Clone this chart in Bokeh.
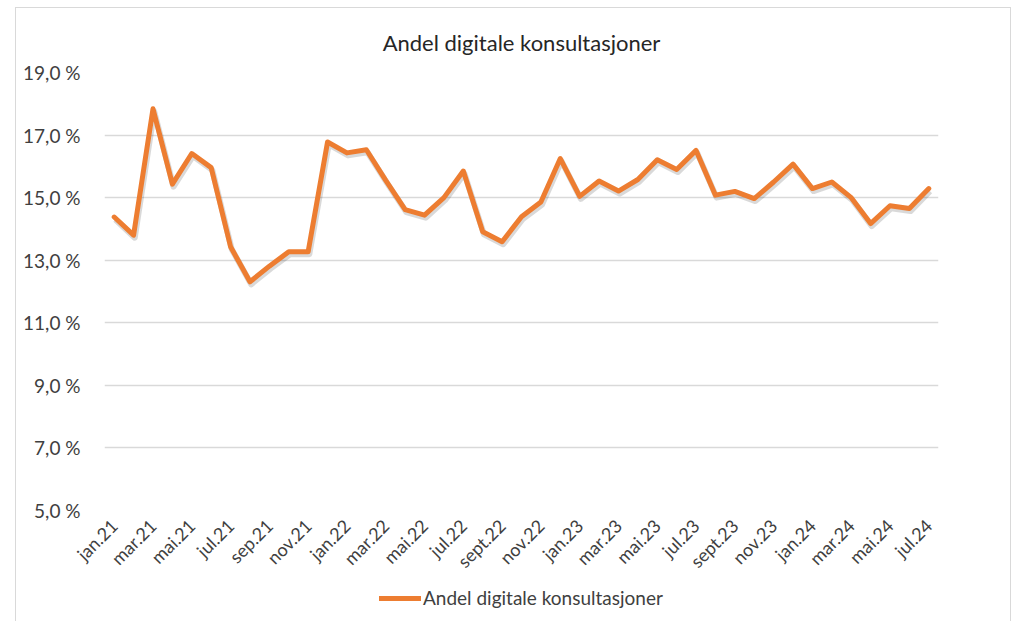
from math import pi
from bokeh.plotting import figure
from bokeh.layouts import column
from bokeh.models import ColumnDataSource, FixedTicker, Legend, LegendItem, Range1d
from bokeh.transform import dodge
from bokeh.embed import file_html
from bokeh.resources import INLINE

months = ["jan", "feb", "mar", "apr", "mai", "jun", "jul", "aug", "sep", "okt", "nov", "des"]
years = ["21", "22", "23", "24"]
month_labels = []
for yr in years:
    for m in months:
        name = m
        if m == "sep" and yr != "21":
            name = "sept"
        month_labels.append(f"{name}.{yr}")
month_labels = month_labels[:43]

share_2021 = [14.38, 13.80, 17.84, 15.43, 16.41, 15.96, 13.43, 12.31, 12.81, 13.27, 13.27, 16.78]
share_2022 = [16.43, 16.53, 15.55, 14.62, 14.44, 15.00, 15.85, 13.91, 13.59, 14.39, 14.86, 16.25]
share_2023 = [15.04, 15.53, 15.21, 15.58, 16.21, 15.90, 16.51, 15.08, 15.20, 14.97, 15.50, 16.07]
share_2024 = [15.29, 15.50, 15.00, 14.17, 14.74, 14.65, 15.29]
share = share_2021 + share_2022 + share_2023 + share_2024

y_ticks = [5, 7, 9, 11, 13, 15, 17, 19]
series_name = "Andel digitale konsultasjoner"

FONT = "Lato"
TXT = "#404040"
ORANGE = "#ED7D31"

idx = list(range(len(share)))
src = ColumnDataSource(dict(x=idx, y=share))

W = 994
p = figure(width=W, height=574, output_backend="svg", toolbar_location=None,
           x_range=Range1d(-0.5, len(share) - 0.5), y_range=Range1d(5, 19),
           min_border_left=88, min_border_right=72, min_border_top=64, min_border_bottom=72)
p.outline_line_color = None
p.background_fill_color = "white"
p.border_fill_color = "white"

p.title.text = series_name
p.title.align = "center"
p.title.text_font = FONT
p.title.text_font_size = "22px"
p.title.text_font_style = "normal"
p.title.text_color = "#262626"
p.title.offset = 0
p.title.standoff = 33

# soft shadow under the line
p.line(x=dodge("x", 0.06), y=dodge("y", -0.08), source=src, line_width=6,
       line_color="black", line_alpha=0.15, line_join="round")
p.line("x", "y", source=src, line_width=5, line_color=ORANGE,
       line_join="round", line_cap="round")

p.yaxis.ticker = FixedTicker(ticks=y_ticks)
p.yaxis.major_label_overrides = {t: f"{t},0 %" for t in y_ticks}
p.yaxis.axis_line_color = None
p.yaxis.major_tick_line_color = None
p.yaxis.minor_tick_line_color = None
p.yaxis.major_label_text_font = FONT
p.yaxis.major_label_text_font_size = "19px"
p.yaxis.major_label_text_color = TXT
p.yaxis.major_label_standoff = 18

xt = idx[::2]
p.xaxis.ticker = FixedTicker(ticks=xt)
p.xaxis.major_label_overrides = {i: month_labels[i] for i in xt}
p.xaxis.major_label_orientation = pi / 4
p.xaxis.axis_line_color = None
p.xaxis.major_tick_line_color = None
p.xaxis.minor_tick_line_color = None
p.xaxis.major_label_text_font = FONT
p.xaxis.major_label_text_font_size = "18px"
p.xaxis.major_label_text_color = TXT
p.xaxis.major_label_standoff = 6

p.xgrid.grid_line_color = None
p.ygrid.ticker = FixedTicker(ticks=y_ticks)
p.ygrid.grid_line_color = "#D9D9D9"
p.ygrid.grid_line_width = 1.5

# legend strip below the chart (its line lies outside the visible range; only the swatch shows)
lg = figure(width=W, height=40, output_backend="svg", toolbar_location=None,
            x_range=Range1d(0, 1), y_range=Range1d(0, 1),
            min_border=0)
lg.outline_line_color = None
lg.axis.visible = False
lg.grid.visible = False
lr = lg.line(x=idx, y=share, line_width=5, line_color=ORANGE, line_cap="round")
legend = Legend(items=[LegendItem(label=series_name, renderers=[lr])],
                orientation="horizontal", location=(275, 13),
                label_text_font=FONT, label_text_font_size="19px", label_text_color=TXT,
                glyph_width=42, glyph_height=22, label_standoff=2,
                border_line_color=None, background_fill_alpha=0,
                margin=0, padding=4)
lg.add_layout(legend, "center")

layout = column(p, lg, spacing=0, margin=(7, 0, 0, 15),
                styles={"border": "1px solid #D9D9D9"})

open("out.html", "w").write(file_html(layout, INLINE))
